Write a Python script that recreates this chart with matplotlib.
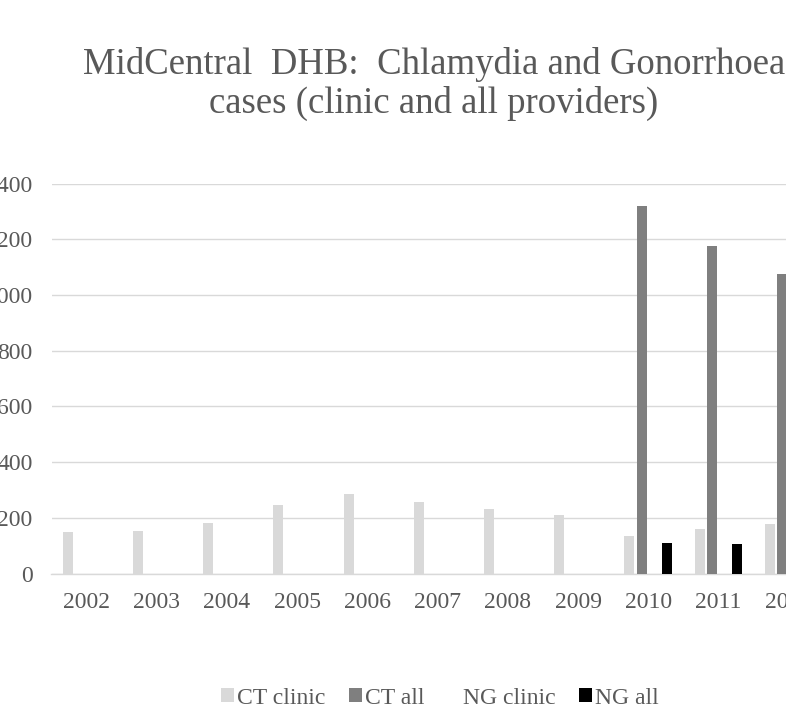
import numpy as np
import matplotlib.pyplot as plt

plt.rcParams['font.family'] = ['Liberation Serif', 'DejaVu Serif']

years = ['2002', '2003', '2004', '2005', '2006', '2007', '2008', '2009', '2010', '2011', '2012']
nan = np.nan
ct_clinic = [150, 152, 182, 245, 285, 258, 233, 210, 135, 158, 178]
ct_all = [nan, nan, nan, nan, nan, nan, nan, nan, 1321, 1177, 1076]
ng_clinic = [nan, nan, nan, nan, nan, nan, nan, nan, nan, nan, nan]
ng_all = [nan, nan, nan, nan, nan, nan, nan, nan, 111, 107, 105]

series = [('CT clinic', ct_clinic, '#d9d9d9'),
          ('CT all', ct_all, '#7f7f7f'),
          ('NG clinic', ng_clinic, '#ffffff'),
          ('NG all', ng_all, '#000000')]

txt = '#595959'
W, H = 786, 721
fig = plt.figure(figsize=(W / 100, H / 100), dpi=100)
# plot area runs off the right edge of the picture (cropped chart)
ax = fig.add_axes([51.5 / W, 147.5 / H, 772.2 / W, 390 / H])

x = np.arange(len(years))
step = 0.178
bw = 0.1425
for k, (name, vals, col) in enumerate(series):
    ax.bar(x + (k - 1.5) * step, vals, bw, color=col, label=name, zorder=3)

ax.set_xlim(-0.5, len(years) - 0.5)
ax.set_ylim(0, 1400)
ax.set_yticks(range(0, 1401, 200))
ax.set_xticks(x)
ax.set_xticklabels(years)
ax.grid(axis='y', color='#d9d9d9', linewidth=1.0, zorder=0)
for s in ['top', 'right', 'left']:
    ax.spines[s].set_visible(False)
ax.spines['bottom'].set_color('#d9d9d9')
ax.spines['bottom'].set_linewidth(1.0)
ax.tick_params(axis='both', length=0, labelsize=17, labelcolor=txt)
ax.tick_params(axis='y', pad=13.5)
ax.tick_params(axis='x', pad=13)

fig.text(434 / W, 1 - 84 / H,
         'MidCentral  DHB:  Chlamydia and Gonorrhoea\ncases (clinic and all providers)',
         ha='center', va='center', fontsize=26.5, color=txt, linespacing=1.12)

fig.legend(loc='center', bbox_to_anchor=(440 / W, 1 - 698 / H), ncol=4,
           frameon=False, fontsize=17, labelcolor=txt,
           handlelength=0.55, handleheight=0.55, handletextpad=0.13,
           columnspacing=0.97)

fig.savefig('out.png', dpi=100)
